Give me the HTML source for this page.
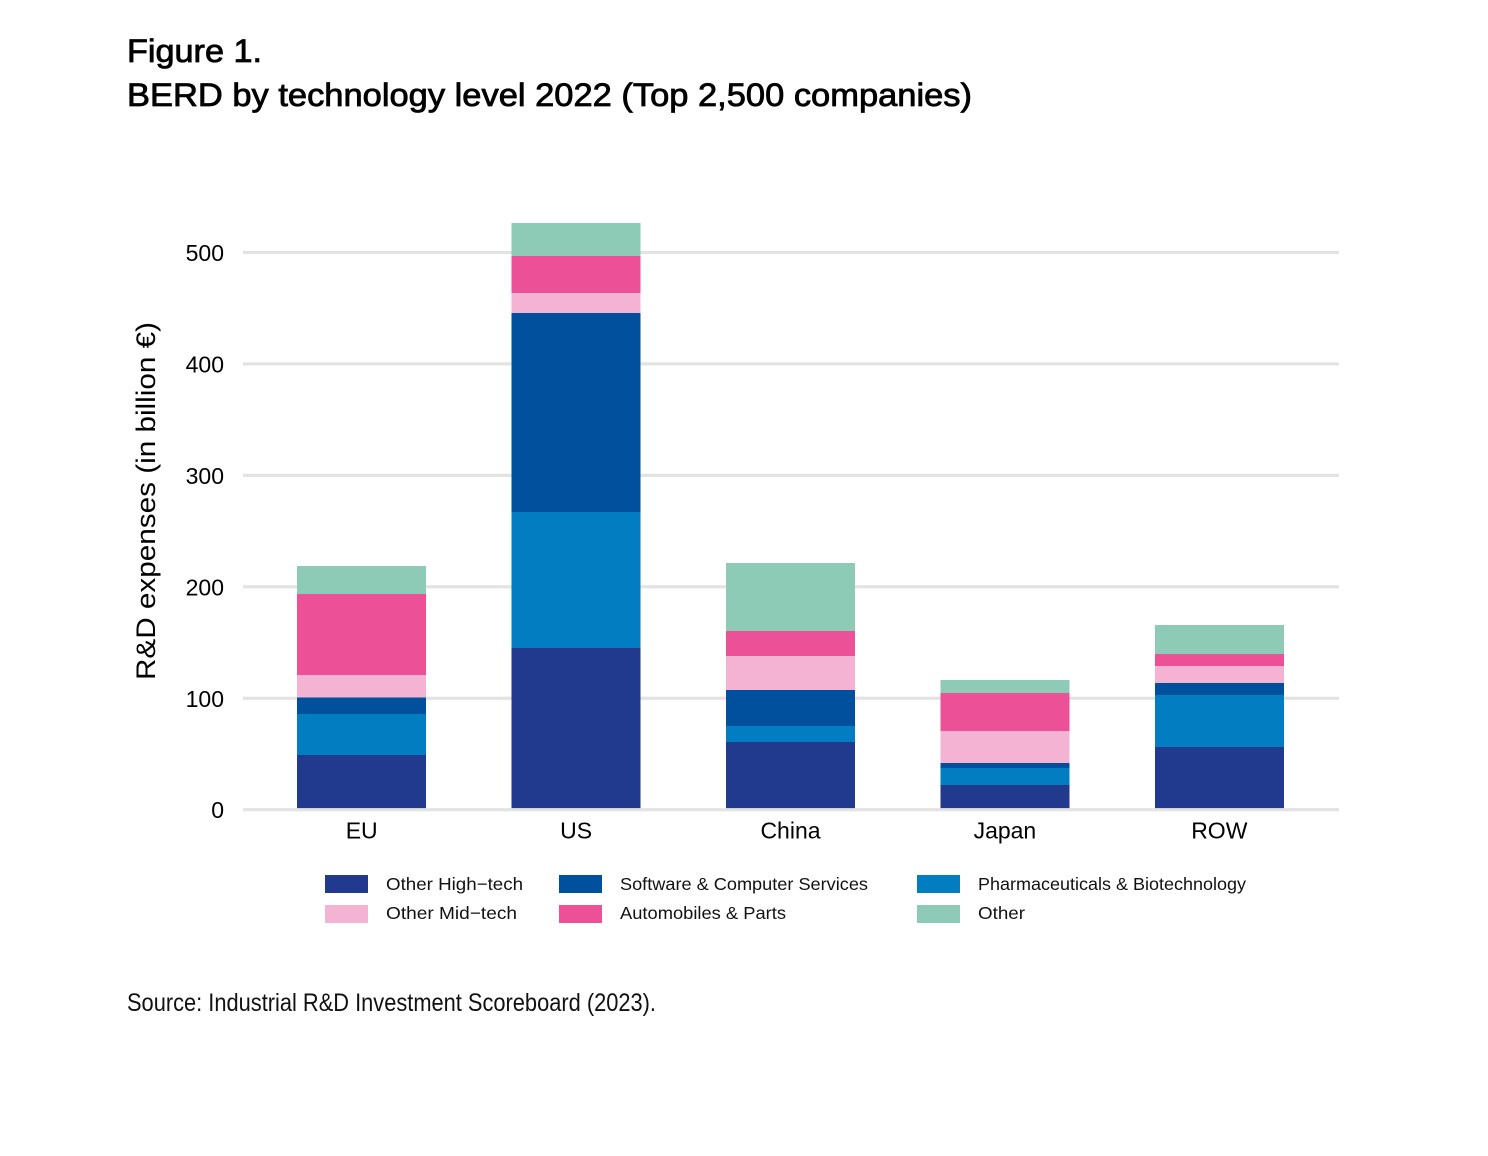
<!DOCTYPE html>
<html lang="en">
<head>
<meta charset="utf-8">
<title>BERD by technology level 2022</title>
<style>
html,body{margin:0;padding:0;background:#fff;}
svg{display:block;font-family:"Liberation Sans",sans-serif;}
.title{font-size:32px;fill:#000;stroke:#000;stroke-width:.8px;}
.legend-text{font-size:17.5px;fill:#111;}
</style>
</head>
<body>
<svg id="chart" xmlns="http://www.w3.org/2000/svg" width="1488" height="1156" viewBox="0 0 1488 1156">
  <rect x="0" y="0" width="1488" height="1156" fill="#fff"/>
  <text class="title" x="127" y="62" textLength="135" lengthAdjust="spacingAndGlyphs">Figure 1.</text>
  <text class="title" x="127" y="106" textLength="845" lengthAdjust="spacingAndGlyphs">BERD by technology level 2022 (Top 2,500 companies)</text>
  <g id="grid"></g>
  <g id="bars"></g>
  <g id="baseline"></g>
  <g id="yticks"></g>
  <g id="xticks"></g>
  <text transform="translate(155,680) rotate(-90)" font-size="27" fill="#000" textLength="358" lengthAdjust="spacingAndGlyphs">R&amp;D expenses (in billion €)</text>

  <g>
    <rect x="325" y="875" width="43" height="18" fill="#213A8D"/>
    <text class="legend-text" x="386" y="890" textLength="137" lengthAdjust="spacingAndGlyphs">Other High−tech</text>
    <rect x="559" y="875" width="43" height="18" fill="#00509E"/>
    <text class="legend-text" x="620" y="890" textLength="248" lengthAdjust="spacingAndGlyphs">Software &amp; Computer Services</text>
    <rect x="917" y="875" width="43" height="18" fill="#027DC1"/>
    <text class="legend-text" x="978" y="890" textLength="268" lengthAdjust="spacingAndGlyphs">Pharmaceuticals &amp; Biotechnology</text>
    <rect x="325" y="905" width="43" height="18" fill="#F5B3D4"/>
    <text class="legend-text" x="386" y="919" textLength="131" lengthAdjust="spacingAndGlyphs">Other Mid−tech</text>
    <rect x="559" y="905" width="43" height="18" fill="#EC5198"/>
    <text class="legend-text" x="620" y="919" textLength="166" lengthAdjust="spacingAndGlyphs">Automobiles &amp; Parts</text>
    <rect x="917" y="905" width="43" height="18" fill="#8DCBB6"/>
    <text class="legend-text" x="978" y="919" textLength="47" lengthAdjust="spacingAndGlyphs">Other</text>
  </g>

  <text x="127" y="1011" font-size="25" fill="#111" textLength="529" lengthAdjust="spacingAndGlyphs">Source: Industrial R&amp;D Investment Scoreboard (2023).</text>
</svg>

<script>
const categories = ['EU', 'US', 'China', 'Japan', 'ROW'];
const yTickValues = [0, 100, 200, 300, 400, 500];
const otherHighTech = [49.1, 145.1, 60.7, 22.2, 56.3];
const pharmaceuticals = [36.8, 122.0, 14.4, 15.2, 46.6];
const software = [14.6, 178.6, 32.3, 4.5, 10.8];
const otherMidTech = [20.5, 18.0, 30.5, 28.7, 15.2];
const automobiles = [72.6, 33.2, 22.4, 34.1, 10.9];
const other = [25.1, 29.5, 61.1, 11.7, 26.0];

const SVG_NS = 'http://www.w3.org/2000/svg';
const stackSeries = [
  { key: 'other-high-tech', values: otherHighTech, color: '#213A8D' },
  { key: 'pharmaceuticals', values: pharmaceuticals, color: '#027DC1' },
  { key: 'software', values: software, color: '#00509E' },
  { key: 'other-mid-tech', values: otherMidTech, color: '#F5B3D4' },
  { key: 'automobiles', values: automobiles, color: '#EC5198' },
  { key: 'other', values: other, color: '#8DCBB6' }
];

function yScale(v) { return 809.7 - 1.1145 * v; }
function xCenter(i) { return 361.7 + 214.4 * i; }
const barWidth = 129;

function make(tag, attrs) {
  const el = document.createElementNS(SVG_NS, tag);
  Object.keys(attrs).forEach(function (k) { el.setAttribute(k, attrs[k]); });
  return el;
}

const grid = document.getElementById('grid');
const yticks = document.getElementById('yticks');
yTickValues.forEach(function (t) {
  const line = make('rect', { x: 243, y: yScale(t) - 1.6, width: 1096, height: 3.2, fill: '#E3E3E3' });
  
  
  (t === 0 ? document.getElementById('baseline') : grid).appendChild(line);

  const label = make('text', { x: 224, y: yScale(t) + 8.5, 'text-anchor': 'end', 'font-size': 23, fill: '#000' });
  
  
  label.textContent = String(t);
  yticks.appendChild(label);
});

const bars = document.getElementById('bars');
const xticks = document.getElementById('xticks');
categories.forEach(function (cat, i) {
  let cumulative = 0;
  stackSeries.forEach(function (s) {
    const v = s.values[i];
    const top = yScale(cumulative + v);
    const bottom = yScale(cumulative);
    const bar = make('rect', { x: xCenter(i) - barWidth / 2, y: top, width: barWidth, height: bottom - top, fill: s.color, 'shape-rendering': 'crispEdges' });
    
    
    bars.appendChild(bar);
    cumulative += v;
  });

  const label = make('text', { x: xCenter(i), y: 838.5, 'text-anchor': 'middle', 'font-size': 23, fill: '#000' });
  
  
  label.textContent = cat;
  xticks.appendChild(label);
});
</script>
</body>
</html>
